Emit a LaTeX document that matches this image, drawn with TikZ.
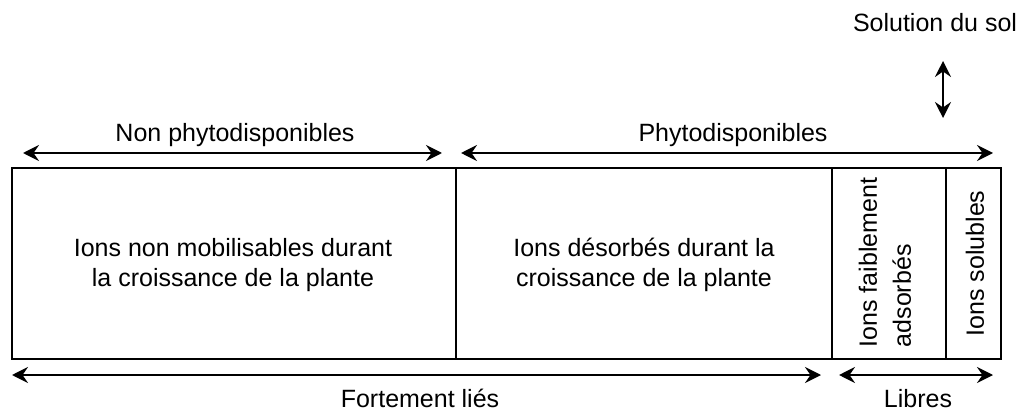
\documentclass[tikz,border=0pt]{standalone}
\usepackage{fontspec}
\setmainfont{Liberation Sans}
\usetikzlibrary{arrows.meta}
\begin{document}
\begin{tikzpicture}[x=1pt,y=-1pt,
  cell/.style={draw, line width=1.6pt, inner sep=0pt, minimum height=191pt},
  txt/.style={font=\fontsize{25}{30}\selectfont, inner sep=0pt, align=center},
  lab/.style={txt, anchor=base},
  dbl/.style={line width=2.4pt, {Stealth[length=16pt,width=16pt,inset=5.5pt]}-{Stealth[length=16pt,width=16pt,inset=5.5pt]}}]
\useasboundingbox (0,0) rectangle (1022,414);
% cells
\node[cell, minimum width=444pt] (a) at (234,263.5) {};
\node[cell, minimum width=376pt] (b) at (644,263.5) {};
\node[cell, minimum width=114pt] (c) at (889,263.5) {};
\node[cell, minimum width=55pt]  (d) at (973.5,263.5) {};
% cell texts
\node[txt] (ta) at (233,265) {Ions non mobilisables durant\\la croissance de la plante};
\node[txt] (tb) at (644,265) {Ions désorbés durant la\\croissance de la plante};
\node[txt, align=left, rotate=90, font=\fontsize{25}{34}\selectfont] (tc) at (885,262.5) {Ions faiblement\\adsorbés};
\node[txt, rotate=90] (td) at (975,263.5) {Ions solubles};
% top labels
\node[lab] (np) at (235,142) {Non phytodisponibles};
\node[lab] (ph) at (733,142) {Phytodisponibles};
\node[lab] (sol) at (935,32) {Solution du sol};
% bottom labels
\node[lab] (fl) at (420,407) {Fortement liés};
\node[lab] (li) at (918,407) {Libres};
% arrow ends
\coordinate (np1) at (23,153);
\coordinate (np2) at (442,153);
\coordinate (ph1) at (461,153);
\coordinate (ph2) at (993,153);
\coordinate (fl1) at (12,375);
\coordinate (fl2) at (821,375);
\coordinate (li1) at (839,375);
\coordinate (li2) at (993,375);
\coordinate (s1) at (943,61);
\coordinate (s2) at (943,118);
\draw[dbl] (np1) -- (np2);
\draw[dbl] (ph1) -- (ph2);
\draw[dbl] (fl1) -- (fl2);
\draw[dbl] (li1) -- (li2);
\draw[dbl, line width=2pt] (s1) -- (s2);
\end{tikzpicture}
\end{document}
